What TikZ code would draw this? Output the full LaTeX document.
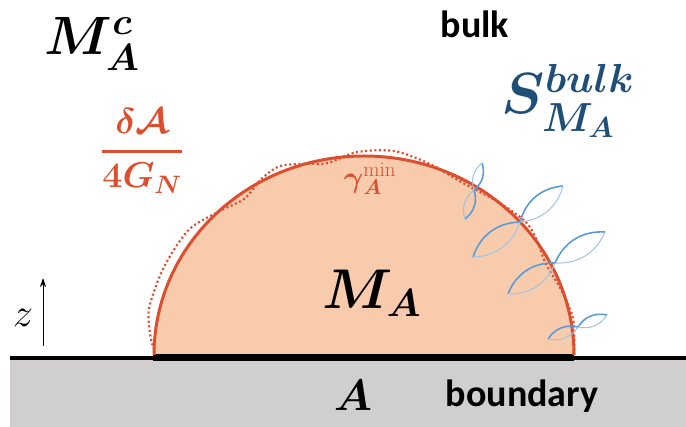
\RequirePackage{fix-cm}
\documentclass[tikz,border=0pt]{standalone}
\usepackage{amsmath}
\usepackage{fontspec}
\newfontfamily\calibri{Carlito}
\usetikzlibrary{arrows.meta}
\definecolor{hsRed}{HTML}{DC4E2E}
\definecolor{hsPeach}{HTML}{F8CBAD}
\definecolor{hsNavy}{HTML}{1F4E79}
\definecolor{hsLeaf}{HTML}{5B9BD5}
\definecolor{hsGray}{HTML}{D0CECE}
\newcommand{\hsfont}[1]{\fontsize{#1}{#1}\selectfont}
% two lenses crossing the minimal surface
\newcommand{\leafpair}[3]{%
  \draw[leaf] (#1) to[bend left=35] (#2);
  \draw[leaf, leaflight] (#2) to[bend left=35] (#1);
  \draw[leaf] (#2) to[bend left=35] (#3);
  \draw[leaf, leaflight] (#3) to[bend left=35] (#2);}

\begin{document}
\begin{tikzpicture}[x=1pt, y=-1pt,
    leaf/.style={draw=hsLeaf, line width=1.6pt},
    leaflight/.style={draw=hsLeaf!60, line width=1pt},
    dotline/.style={draw=hsRed, line width=2.2pt, dash pattern=on 2pt off 2.6pt},
    txt/.style={font=\calibri\bfseries\hsfont{38}, inner sep=0pt},
    mth/.style={inner sep=0pt}]
  \useasboundingbox (0,0) rectangle (686,427);

  % boundary
  \fill[hsGray] (10,358) rectangle (686,427);
  \draw[line width=3.5pt] (10,358) -- (686,358);

  % entanglement wedge
  \fill[hsPeach] (574,355) arc[start angle=0, end angle=-180, x radius=210, y radius=199] -- cycle;
  \draw[line width=7pt] (153,358) -- (574,358);

  % quantum-corrected surface
  \foreach \t/\d [count=\i] in {0/0, 5/0.005, 11/0.012, 19/-0.005, 28/-0.02, 35/0.005,
      41/0.02, 50/0.0, 62/-0.015, 72/0.01, 82/0.035, 92/0.02, 100/-0.02, 106/0.0,
      113/0.03, 119/0.01, 126/-0.03, 134/0.0, 143/0.045, 155/0.05, 167/0.05,
      175/0.02, 179/-0.005}
    \coordinate (w\i) at ({364+210*(1+\d)*cos(\t)},{355-199*(1+\d)*sin(\t)});
  \draw[dotline] plot[smooth] coordinates {(w1) (w2) (w3) (w4) (w5) (w6) (w7) (w8)
    (w9) (w10) (w11) (w12) (w13) (w14) (w15) (w16) (w17) (w18) (w19) (w20) (w21)
    (w22) (w23)};

  \draw[hsRed, line width=3pt] (574,355) arc[start angle=0, end angle=-180, x radius=210, y radius=199];

  % bulk entanglement
  \leafpair{482,163}{474,190}{465,219}
  \leafpair{473,257}{520,222}{563,186}
  \leafpair{508,294}{555,263}{605,232}
  \leafpair{548,339}{578,327}{607,315}

  % labels
  \node[mth, font=\hsfont{54}] (mac) at (92,44) {$\boldsymbol{M_A^c}$};
  \node[mth, text=hsRed, font=\hsfont{36}] (area) at (142,151)
    {$\boldsymbol{\genfrac{}{}{2.5pt}{0}{\delta\mathcal{A}}{4G_N}}$};
  \node[txt] (bulk) at (475,24) {bulk};
  \node[mth, text=hsNavy, font=\hsfont{58}] (sbulk) at (568,101) {$\boldsymbol{S^{bulk}_{M_A}}$};
  \node[mth, text=hsRed, font=\hsfont{30}] (gmin) at (370,179)
    {$\boldsymbol{\gamma}_{\boldsymbol{A}}^{\min}$};
  \node[mth, font=\hsfont{56}] (ma) at (372,293) {$\boldsymbol{M_A}$};
  \node[mth, font=\hsfont{44}] (asub) at (353,395) {$\boldsymbol{A}$};
  \node[txt] (bdry) at (522,396) {boundary};
  \node[mth, font=\hsfont{40}] (zlab) at (23,318) {$z$};

  \coordinate (zfoot) at (43,346);
  \coordinate (zhead) at (43,278);
  \draw[-{Stealth[length=9pt, width=6pt]}, line width=1pt] (zfoot) -- (zhead);
\end{tikzpicture}
\end{document}
